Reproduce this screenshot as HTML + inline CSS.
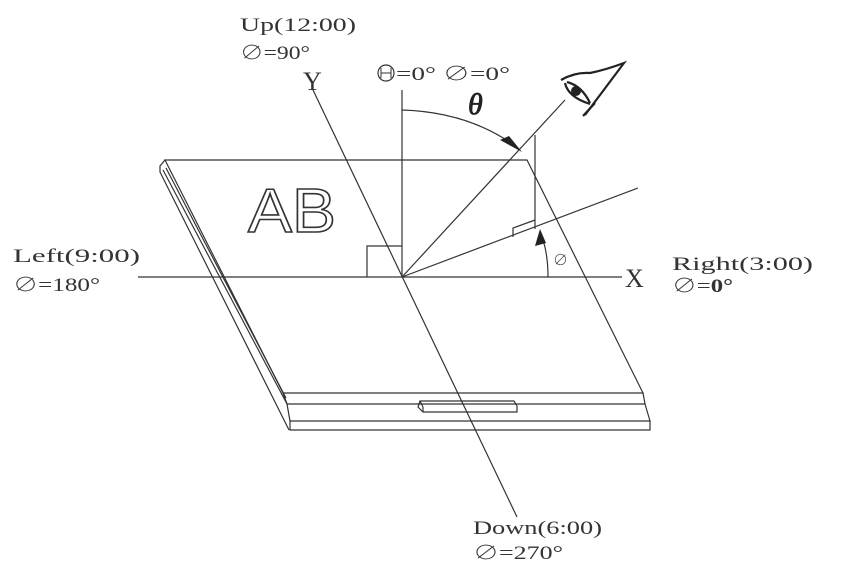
<!DOCTYPE html>
<html><head><meta charset="utf-8"><style>
html,body{margin:0;padding:0;background:#fff;}
svg{display:block;}
</style></head><body>
<svg width="853" height="580" viewBox="0 0 853 580" xmlns="http://www.w3.org/2000/svg" font-family="Liberation Serif, Noto Serif CJK SC, serif">
<g stroke="#333" stroke-width="1.2" fill="none">
<polygon points="165,160 527,160 643,393 283,393"/>
<polyline points="165,160 160,166 160,172 289,430"/>
<line x1="163" y1="170" x2="287" y2="404"/>
<line x1="166" y1="168" x2="286" y2="398"/>
<polyline points="283,393 287,404 645,404 643,393"/>
<polyline points="287,404 290,421 650,421 645,404"/>
<polyline points="290,421 290,430 650,430 650,421"/>
<path d="M420,401 L514,401 L517,406 L517,412 L423,412 L418,407 Z"/>
<line x1="420" y1="401" x2="423" y2="407"/>
<line x1="423" y1="407" x2="423" y2="412"/>
<line x1="138" y1="277" x2="622" y2="277"/>
<line x1="313" y1="90" x2="517" y2="517"/>
<line x1="402" y1="90" x2="402" y2="277"/>
<polyline points="367,277 367,246 402,246"/>
<line x1="402" y1="277" x2="565" y2="100"/>
<line x1="535" y1="135" x2="535" y2="229"/>
<line x1="402" y1="277" x2="638" y2="188"/>
<polyline points="513,237 513,228 535,220"/>
<path d="M402,110 Q470,112 518,148"/>
<path d="M548,277 Q548,250 540,232"/>
</g>
<polygon points="522,152 500,140 509,136" fill="#222"/>
<polygon points="540,229 535,246 546,243" fill="#222"/>
<g stroke="#222" stroke-width="2.2" fill="none">
<path d="M561,80 Q575,72 590,73 Q605,70 624,63 L585,115"/>
<path d="M565,83 Q568,97 590,104"/>
<path d="M567,82 Q582,86 590,103"/>
<line x1="583" y1="116" x2="595" y2="103"/>
</g>
<circle cx="576" cy="91" r="5" fill="#222"/>
<text x="248" y="232" font-size="62" textLength="88" lengthAdjust="spacingAndGlyphs" style="font-family:'Liberation Sans',sans-serif;fill:#fff;stroke:#333;stroke-width:1.6">AB</text>
<g fill="#333" font-size="19">
<text x="240" y="31" textLength="116" lengthAdjust="spacingAndGlyphs">Up(12:00)</text>
<text x="240" y="59" textLength="70" lengthAdjust="spacingAndGlyphs">∅=90°</text>
<text x="303" y="90" font-size="26">Y</text>
<text x="396" y="80" textLength="114" lengthAdjust="spacingAndGlyphs">=0° ∅=0°</text>
<text x="468" y="114" font-size="30" font-style="italic" fill="#222" stroke="#222" stroke-width="0.8">θ</text>
<text x="13" y="262" textLength="127" lengthAdjust="spacingAndGlyphs">Left(9:00)</text>
<text x="13" y="291" textLength="87" lengthAdjust="spacingAndGlyphs">∅=180°</text>
<text x="625" y="287" font-size="26">X</text>
<text x="672" y="270" textLength="141" lengthAdjust="spacingAndGlyphs">Right(3:00)</text>
<text x="672" y="292" textLength="61" lengthAdjust="spacingAndGlyphs">∅=<tspan font-weight="bold">0°</tspan></text>
<text x="553" y="265" font-size="15">∅</text>
<text x="473" y="534" textLength="129" lengthAdjust="spacingAndGlyphs">Down(6:00)</text>
<text x="473" y="559" textLength="90" lengthAdjust="spacingAndGlyphs">∅=270°</text>
</g>
<circle cx="386" cy="73" r="8" fill="none" stroke="#333" stroke-width="1.2"/>
<line x1="381" y1="73" x2="391" y2="73" stroke="#333"/>
<line x1="381" y1="68" x2="381" y2="78" stroke="#333"/>
<line x1="391" y1="68" x2="391" y2="78" stroke="#333"/>
</svg>
</body></html>
